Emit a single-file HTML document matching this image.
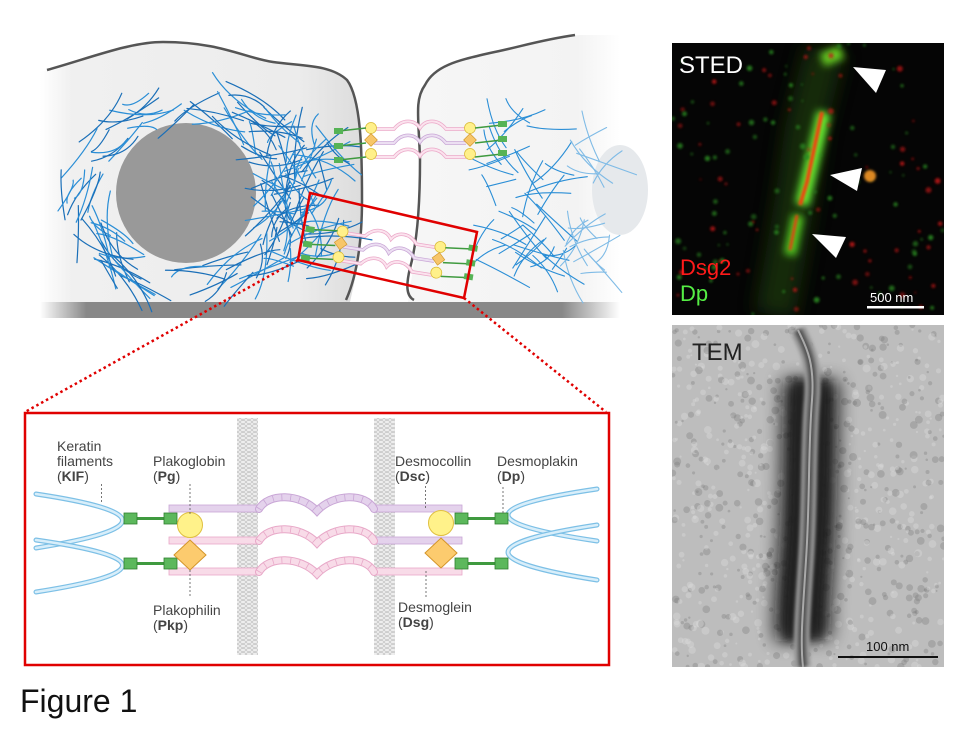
<!DOCTYPE html>
<html><head><meta charset="utf-8"><style>
html,body{margin:0;padding:0;background:#fff;}
svg{display:block;font-family:"Liberation Sans",sans-serif;}
</style></head><body>
<svg id="s" width="960" height="733" viewBox="0 0 960 733" xmlns="http://www.w3.org/2000/svg">
<defs>
<linearGradient id="gnd" x1="0" x2="1"><stop offset="0" stop-color="#fff"/><stop offset="0.08" stop-color="#888"/><stop offset="0.9" stop-color="#888"/><stop offset="1" stop-color="#fff"/></linearGradient>
<linearGradient id="c1" x1="0" x2="1"><stop offset="0" stop-color="#fff"/><stop offset="0.1" stop-color="#f0f0f0"/><stop offset="0.8" stop-color="#ececec"/><stop offset="1" stop-color="#dcdcdc"/></linearGradient>
<linearGradient id="c2" x1="0" x2="1"><stop offset="0" stop-color="#f6f6f6"/><stop offset="0.8" stop-color="#f3f3f3"/><stop offset="1" stop-color="#fff"/></linearGradient>
<pattern id="mem" width="6" height="4" patternUnits="userSpaceOnUse"><rect width="6" height="4" fill="#eee"/><ellipse cx="3" cy="2" rx="2.6" ry="1.6" fill="none" stroke="#bbb" stroke-width="0.6"/></pattern>
<filter id="bl" filterUnits="userSpaceOnUse" x="0" y="0" width="960" height="733"><feGaussianBlur stdDeviation="4"/></filter>
<filter id="bl2" filterUnits="userSpaceOnUse" x="0" y="0" width="960" height="733"><feGaussianBlur stdDeviation="1.2"/></filter>
<filter id="bl3" filterUnits="userSpaceOnUse" x="0" y="0" width="960" height="733"><feGaussianBlur stdDeviation="9"/></filter>
<filter id="bl4" filterUnits="userSpaceOnUse" x="0" y="0" width="960" height="733"><feGaussianBlur stdDeviation="1.5"/></filter>
<clipPath id="stc"><rect x="672" y="43" width="272" height="272"/></clipPath>
<clipPath id="tmc"><rect x="672" y="325" width="272" height="342"/></clipPath>
</defs>

<rect x="40" y="302" width="580" height="16" fill="url(#gnd)"/>
<path d="M40,72 C90,60 130,42 163,42 C220,42 245,58 273,62 C300,66 330,64 347,80 C362,100 362,160 362,200 C362,250 355,280 350,302 L40,302 Z" fill="url(#c1)"/>
<path d="M47,70 C90,58 130,42 163,42 C220,42 245,58 273,62 C300,66 330,64 347,80 C362,100 362,160 362,200 C362,250 355,280 346,300" fill="none" stroke="#555" stroke-width="2.5"/>
<path d="M408,302 C412,270 420,240 420,200 C420,150 414,110 425,85 C435,65 460,60 490,53 C520,47 540,38 580,35 L620,35 L620,302 Z" fill="url(#c2)"/>
<path d="M414,300 C406,296 406,285 410,268 C418,240 420,200 420,160 C419,120 414,100 425,85 C435,65 460,60 490,53 C520,47 540,40 575,35" fill="none" stroke="#555" stroke-width="2.5"/>
<circle cx="186" cy="193" r="70" fill="#999"/>
<ellipse cx="620" cy="190" rx="28" ry="45" fill="#e6e9ec"/>
<g id="fil" fill="none" stroke-linecap="round"></g>
<g id="des"></g>
<polygon points="310,193 477,232 464,298 298,260" fill="none" stroke="#e00000" stroke-width="2.5"/>
<line x1="298" y1="260" x2="25" y2="412" stroke="#e00000" stroke-width="2.5" stroke-dasharray="2.5,3"/>
<line x1="464" y1="298" x2="606" y2="412" stroke="#e00000" stroke-width="2.5" stroke-dasharray="2.5,3"/>

<rect x="25" y="413" width="584" height="252" fill="#fff" stroke="#e00000" stroke-width="2.5"/>
<rect x="237" y="418" width="21" height="237" fill="url(#mem)"/>
<rect x="374" y="418" width="21" height="237" fill="url(#mem)"/>
<g id="inset"></g>
<g font-size="14" fill="#444">
<text x="57" y="451">Keratin</text><text x="57" y="466">filaments</text><text x="57" y="481">(<tspan font-weight="bold">KIF</tspan>)</text>
<text x="153" y="466">Plakoglobin</text><text x="153" y="481">(<tspan font-weight="bold">Pg</tspan>)</text>
<text x="395" y="466">Desmocollin</text><text x="395" y="481">(<tspan font-weight="bold">Dsc</tspan>)</text>
<text x="497" y="466">Desmoplakin</text><text x="497" y="481">(<tspan font-weight="bold">Dp</tspan>)</text>
<text x="153" y="615">Plakophilin</text><text x="153" y="630">(<tspan font-weight="bold">Pkp</tspan>)</text>
<text x="398" y="612">Desmoglein</text><text x="398" y="627">(<tspan font-weight="bold">Dsg</tspan>)</text>
</g>
<g stroke="#555" stroke-width="0.8" stroke-dasharray="2,2">
<line x1="101.5" y1="484" x2="101.5" y2="503"/><line x1="190" y1="484" x2="190" y2="515"/>
<line x1="190" y1="570" x2="190" y2="598"/><line x1="425.5" y1="486" x2="425.5" y2="508"/>
<line x1="503" y1="487" x2="503" y2="513"/><line x1="426" y1="571" x2="426" y2="598"/>
</g>
<text x="20" y="712" font-size="32" fill="#111">Figure 1</text>

<g clip-path="url(#stc)">
<rect x="672" y="43" width="272" height="272" fill="#050505"/>
<g id="sted"></g>
</g>
<text x="679" y="73" font-size="24" fill="#fff">STED</text>
<text x="680" y="275" font-size="22" fill="#ff1a1a">Dsg2</text>
<text x="680" y="301" font-size="22" fill="#55ee44">Dp</text>
<text x="870" y="302" font-size="13" fill="#fff">500 nm</text>
<rect x="867" y="306" width="57" height="2.5" fill="#fff"/>
<polygon points="853,67 886,70 876,93" fill="#fff"/>
<polygon points="830,175 862,168 857,191" fill="#fff"/>
<polygon points="812,234 846,237 836,258" fill="#fff"/>

<g clip-path="url(#tmc)">
<rect x="672" y="325" width="272" height="342" fill="#bdbdbd"/>
<g id="tem"></g>
</g>
<text x="692" y="360" font-size="24" fill="#222">TEM</text>
<rect x="838" y="656" width="100" height="2" fill="#111"/>
<text x="866" y="651" font-size="13" fill="#111">100 nm</text>

<script>
var ns="http://www.w3.org/2000/svg";
function E(t,a,p){var e=document.createElementNS(ns,t);for(var k in a)e.setAttribute(k,a[k]);p.appendChild(e);return e;}
var seed=7;function R(){seed=(seed*16807)%2147483647;return seed/2147483647;}
var fil=document.getElementById('fil');
for(var i=0;i<170;i++){
  var a=R()*6.283,rr=76+R()*42,cx,cy;
  cx=186+Math.cos(a)*rr*1.05;cy=193+Math.sin(a)*rr*0.95;
  if(R()<0.3){cx=270+R()*70;cy=120+R()*150;}
  if(cy<95||cy>290)continue;
  var t=a+1.57+(R()-0.5)*1.4,L=14+R()*22;
  var x1=cx-Math.cos(t)*L,y1=cy-Math.sin(t)*L,x2=cx+Math.cos(t)*L,y2=cy+Math.sin(t)*L;
  E('path',{d:'M'+x1+','+y1+' Q'+(cx+(R()-0.5)*20)+','+(cy+(R()-0.5)*20)+' '+x2+','+y2,stroke:R()<0.5?'#1a6fb8':'#2a8ed6','stroke-width':1.2},fil);
}
for(var i=0;i<70;i++){
  var cx=480+R()*130,cy=110+R()*170;
  if(cy>175&&cy<225&&cx>560)continue;
  var t=(R()-0.5)*2.5,L=12+R()*20;
  E('path',{d:'M'+(cx-Math.cos(t)*L)+','+(cy-Math.sin(t)*L)+' Q'+(cx+(R()-0.5)*14)+','+(cy+(R()-0.5)*14)+' '+(cx+Math.cos(t)*L)+','+(cy+Math.sin(t)*L),stroke:cx>570?'#7fbbe6':'#2a8ed6','stroke-width':1.1},fil);
}
var des=document.getElementById('des');
function mini(ox,oy,rot){
  var g=E('g',{transform:'translate('+ox+','+oy+') rotate('+rot+')'},des);
  [0,14,28].forEach(function(y,i){
    var d='M0,'+(y+4)+' L20,'+(y+4)+' C28,'+(y-6)+' 40,'+(y-6)+' 46,'+(y+3)+' C52,'+(y-6)+' 64,'+(y-6)+' 72,'+(y+4)+' L92,'+(y+4);
    E('path',{d:d,fill:'none',stroke:i%2?'#c9a6d6':'#eba8c8','stroke-width':3.5},g);
    E('path',{d:d,fill:'none',stroke:i%2?'#ecdff2':'#fbe3ee','stroke-width':2},g);
  });
  [[-3,3,'c'],[-3,15,'d'],[-3,29,'c'],[96,3,'c'],[96,15,'d'],[96,29,'c']].forEach(function(p){
    if(p[2]=='c')E('circle',{cx:p[0],cy:p[1],r:5.5,fill:'#fff08a',stroke:'#d9b830','stroke-width':0.7},g);
    else E('rect',{x:p[0]-4.5,y:p[1]-4.5,width:9,height:9,fill:'#f7c66a',stroke:'#d39a30','stroke-width':0.7,transform:'rotate(45 '+p[0]+' '+p[1]+')'},g);
  });
  [3,18,32].forEach(function(y){
    E('line',{x1:-8,y1:y,x2:-35,y2:y+3,stroke:'#3f9a3f','stroke-width':1.5},g);
    E('rect',{x:-40,y:y,width:9,height:6,fill:'#56b356'},g);
    E('line',{x1:101,y1:y,x2:128,y2:y-3,stroke:'#3f9a3f','stroke-width':1.5},g);
    E('rect',{x:124,y:y-7,width:9,height:6,fill:'#56b356'},g);
  });
}
mini(374,125,0);
mini(346,229,9);
var ins=document.getElementById('inset');
function rod(x1,x2,y,c,s){E('rect',{x:x1,y:y,width:x2-x1,height:7,fill:c,stroke:s,'stroke-width':0.8},ins);}
function wave(y,c,s){
  var d='M259,'+y+' C268,'+(y-16)+' 300,'+(y-16)+' 317,'+(y+2)+' C334,'+(y-16)+' 366,'+(y-16)+' 374,'+y;
  E('path',{d:d,fill:'none',stroke:s,'stroke-width':8,'stroke-linecap':'round'},ins);
  E('path',{d:d,fill:'none',stroke:c,'stroke-width':6,'stroke-linecap':'round'},ins);
  E('path',{d:d,fill:'none',stroke:s,'stroke-width':6,'stroke-dasharray':'0.8,8'},ins);
}
var P='#e4d2ec',PS='#c9a6d6',K='#f8dbe8',KS='#e8a8c8';
rod(169,259,505,P,PS);rod(374,462,505,P,PS);wave(509,P,PS);
rod(169,259,537,K,KS);rod(374,462,537,P,PS);wave(541,K,KS);
rod(169,259,568,K,KS);rod(374,462,568,K,KS);wave(572,K,KS);
function ker(d){E('path',{d:d,fill:'none',stroke:'#7dc0e6','stroke-width':5,'stroke-linecap':'round'},ins);E('path',{d:d,fill:'none',stroke:'#d8eefa','stroke-width':2.6,'stroke-linecap':'round'},ins);}
ker('M36,494 Q209,520 36,548');ker('M36,540 Q209,565 36,592');
ker('M597,489 Q419,515 597,541');ker('M597,525 Q419,552 597,580');
function grn(x1,x2,y){E('line',{x1:x1+13,y1:y+5.5,x2:x2,y2:y+5.5,stroke:'#3f9a3f','stroke-width':3},ins);
 E('rect',{x:x1,y:y,width:13,height:11,fill:'#5cb85c',stroke:'#2f7f2f','stroke-width':0.8},ins);
 E('rect',{x:x2,y:y,width:13,height:11,fill:'#5cb85c',stroke:'#2f7f2f','stroke-width':0.8},ins);}
grn(124,164,513);grn(124,164,558);grn(455,495,513);grn(455,495,558);
[[190,525],[441,523]].forEach(function(p){E('circle',{cx:p[0],cy:p[1],r:12.5,fill:'#fff28a',stroke:'#e0c040','stroke-width':1},ins);});
[[190,555],[441,553]].forEach(function(p){E('polygon',{points:(p[0])+','+(p[1]-15)+' '+(p[0]+16)+','+p[1]+' '+p[0]+','+(p[1]+15)+' '+(p[0]-16)+','+p[1],fill:'#fccb6e',stroke:'#d4952a','stroke-width':1},ins);});
var st=document.getElementById('sted');
E('path',{d:'M825,50 L805,130 L795,200 L785,260 L775,315',fill:'none',stroke:'#1c3a0c','stroke-width':40,filter:'url(#bl3)',opacity:0.7},st);
E('path',{d:'M822,60 L842,52',fill:'none',stroke:'#66cc22','stroke-width':14,filter:'url(#bl)'},st);
E('path',{d:'M824,112 L808,180 L802,205',fill:'none',stroke:'#66ee33','stroke-width':14,filter:'url(#bl)'},st);
E('path',{d:'M798,215 L790,255',fill:'none',stroke:'#55cc22','stroke-width':12,filter:'url(#bl)'},st);
E('path',{d:'M822,112 L807,182 L800,205',fill:'none',stroke:'#ee4411','stroke-width':4,filter:'url(#bl2)'},st);
E('path',{d:'M797,215 L790,250',fill:'none',stroke:'#dd4411','stroke-width':3,filter:'url(#bl2)'},st);
for(var i=0;i<140;i++){var x=672+R()*272,y=43+R()*272;E('circle',{cx:x,cy:y,r:1+R()*2,fill:R()<0.6?'#2c8a22':'#c01515',opacity:0.5+R()*0.4,filter:'url(#bl2)'},st);}
E('circle',{cx:870,cy:176,r:6,fill:'#dd8822',filter:'url(#bl2)'},st);
var tm=document.getElementById('tem');
for(var i=0;i<900;i++){E('circle',{cx:672+R()*272,cy:325+R()*342,r:1+R()*3,fill:R()<0.5?'#7a7a7a':'#e0e0e0',opacity:0.35},tm);}
var cd='M798,330 C805,345 815,360 812,400 C808,450 810,500 806,560 C803,610 800,640 803,667';
var cd2='M811,380 C809,450 810,500 806,560 C803,600 802,620 803,640';
E('path',{d:cd2,fill:'none',stroke:'#111','stroke-width':56,filter:'url(#bl3)',opacity:0.9},tm);
E('path',{d:cd2,fill:'none',stroke:'#222','stroke-width':40,filter:'url(#bl)',opacity:0.8},tm);
E('path',{d:cd,fill:'none',stroke:'#999','stroke-width':16,filter:'url(#bl4)'},tm);
E('path',{d:cd,fill:'none',stroke:'#555','stroke-width':8,filter:'url(#bl4)'},tm);
E('path',{d:cd,fill:'none',stroke:'#aaa','stroke-width':2},tm);
</script>
</svg>
</body></html>
